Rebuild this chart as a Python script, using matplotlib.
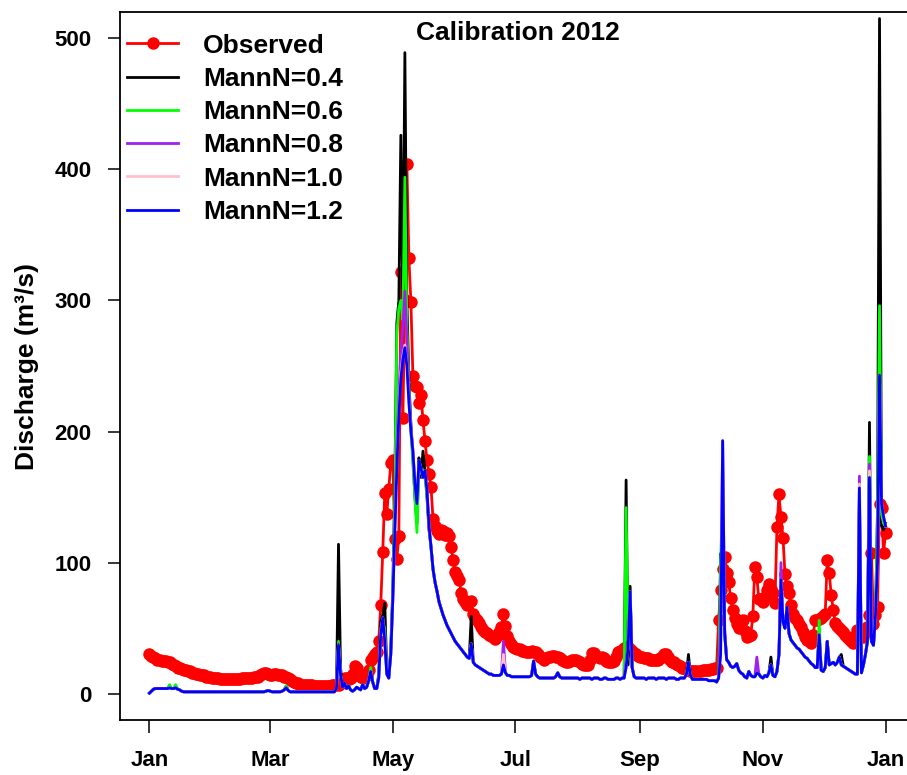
import numpy as np
import pandas as pd
import matplotlib
matplotlib.use("Agg")
import matplotlib.pyplot as plt

plt.rcParams['font.family'] = ['Liberation Sans', 'DejaVu Sans']
plt.rcParams['font.weight'] = 'bold'

# daily series, 1 Jan 2012 .. 1 Jan 2013
days = pd.date_range("2012-01-01", "2013-01-01", freq="D")

observed = [
    30, 29, 28, 27, 26, 26, 25, 25, 25, 24,
    24, 23, 22, 21, 20, 20, 19, 18, 18, 17,
    17, 16, 16, 15, 15, 14, 14, 14, 13, 13,
    13, 12, 12, 12, 12, 11, 11, 11, 11, 11,
    11, 11, 11, 11, 11, 11, 12, 12, 12, 12,
    12, 12, 13, 13, 13, 14, 15, 16, 16, 15,
    14, 14, 15, 15, 14, 14, 14, 13, 13, 12,
    11, 10, 9, 8, 8, 7, 7, 7, 7, 7,
    7, 7, 6, 6, 6, 6, 6, 6, 6, 6,
    6, 7, 7, 7, 7, 8, 10, 12, 12, 11,
    12, 15, 21, 20, 15, 13, 12, 13, 14, 18,
    26, 28, 30, 32, 40, 68, 108, 153, 137, 156,
    176, 178, 118, 103, 120, 322, 210, 300, 404, 332,
    299, 242, 235, 234, 222, 228, 209, 193, 178, 168,
    158, 133, 128, 124, 122, 125, 124, 121, 123, 120,
    112, 102, 93, 90, 87, 77, 72, 70, 68, 70,
    71, 61, 58, 56, 54, 51, 49, 47, 46, 45,
    44, 43, 42, 44, 47, 51, 61, 52, 44, 40,
    38, 36, 35, 34, 34, 33, 33, 32, 32, 32,
    33, 32, 32, 30, 28, 27, 26, 27, 28, 28,
    29, 29, 28, 28, 27, 26, 25, 24, 24, 25,
    26, 26, 26, 25, 24, 23, 22, 22, 22, 26,
    31, 31, 29, 28, 27, 28, 27, 25, 24, 24,
    24, 25, 28, 32, 33, 33, 35, 36, 36, 34,
    33, 31, 30, 29, 28, 28, 27, 27, 27, 26,
    26, 26, 26, 26, 27, 28, 30, 30, 28, 26,
    24, 24, 23, 22, 21, 20, 20, 19, 18, 17,
    17, 17, 17, 17, 17, 18, 18, 18, 18, 19,
    19, 20, 20, 56, 79, 95, 104, 92, 85, 73,
    64, 58, 53, 50, 53, 56, 48, 43, 44, 45,
    59, 97, 89, 72, 72, 70, 74, 79, 84, 80,
    77, 69, 127, 152, 135, 119, 91, 82, 77, 68,
    61, 58, 56, 53, 51, 47, 43, 41, 40, 39,
    45, 56, 56, 57, 58, 59, 61, 102, 92, 75,
    64, 54, 52, 50, 49, 47, 45, 43, 42, 40,
    39, 44, 49, 46, 44, 43, 47, 51, 60, 107,
    53, 60, 66, 145, 142, 107, 123,
]

# simulated discharge with Manning's n = 1.2
mann12 = [
    0.5, 2, 3.5, 4, 4, 4, 4, 4, 4, 4,
    4.5, 4, 4, 4.5, 3.5, 3, 2, 1.5, 1.5, 1.5,
    1.5, 1.5, 1.5, 1.5, 1.5, 1.5, 1.5, 1.5, 1.5, 1.5,
    1.5, 1.5, 1.5, 1.5, 1.5, 1.5, 1.5, 1.5, 1.5, 1.5,
    1.5, 1.5, 1.5, 1.5, 1.5, 1.5, 1.5, 1.5, 1.5, 1.5,
    1.5, 1.5, 1.5, 1.5, 1.5, 1.5, 1.5, 1.5, 2, 2.5,
    2, 1.5, 1.5, 1.5, 1.5, 1.5, 2, 3, 4.5, 2.5,
    1.5, 1.5, 1.5, 1.5, 1.5, 1.5, 1.5, 1.5, 1.5, 1.5,
    1.5, 1.5, 1.5, 1.5, 1.5, 1.5, 1.5, 1.5, 1.5, 1.5,
    1.5, 1.5, 1.5, 4, 37, 15, 5, 8, 4, 6,
    3, 2, 3, 5, 4, 3, 7, 4, 5, 10,
    17, 9, 4, 4, 12, 45, 58, 40, 15, 12,
    30, 72, 123, 171, 212, 240, 255, 264, 250, 222,
    200, 185, 160, 145, 178, 172, 165, 170, 155, 128,
    112, 95, 85, 78, 70, 65, 60, 56, 52, 49,
    46, 43, 40, 38, 36, 34, 32, 30, 28, 27,
    38, 24, 22, 21, 20, 19, 18, 17, 16, 15,
    15, 14, 14, 14, 14, 15, 22, 16, 14, 14,
    13, 13, 13, 13, 13, 13, 13, 13, 13, 13,
    14, 25, 15, 13, 12, 12, 12, 12, 12, 12,
    12, 12, 13, 16, 13, 12, 12, 12, 12, 12,
    12, 12, 12, 12, 11, 12, 12, 12, 12, 12,
    11, 12, 12, 12, 11, 11, 12, 12, 11, 11,
    11, 11, 12, 12, 11, 12, 12, 20, 35, 78,
    20, 13, 12, 12, 12, 12, 12, 11, 12, 12,
    12, 12, 11, 12, 12, 12, 12, 11, 12, 12,
    12, 12, 11, 11, 12, 12, 12, 15, 24, 14,
    11, 11, 11, 11, 11, 11, 11, 11, 10, 10,
    10, 10, 9, 12, 30, 193, 46, 26, 24, 21,
    20, 21, 23, 18, 16, 15, 13, 12, 17, 14,
    13, 13, 16, 15, 13, 12, 14, 13, 16, 22,
    14, 13, 17, 30, 87, 55, 50, 66, 46, 41,
    39, 37, 35, 34, 32, 30, 28, 27, 25, 23,
    22, 20, 20, 45, 18, 17, 20, 40, 22, 23,
    24, 22, 24, 28, 22, 21, 20, 19, 18, 17,
    16, 15, 15, 157, 16, 22, 30, 40, 165, 40,
    37, 60, 100, 243, 145, 135, 128,
]

# days where the other roughness runs depart from the n = 1.2 run
peaks04 = {10: 6, 13: 6, 68: 6, 94: 114, 95: 20, 110: 19, 114: 15, 115: 55,
           116: 60, 117: 69, 118: 18, 120: 35, 121: 80, 122: 160, 123: 283,
           124: 300, 125: 426, 126: 290, 127: 489, 128: 300, 129: 240,
           130: 205, 131: 180, 132: 150, 133: 130, 134: 180, 135: 165,
           136: 185, 137: 170, 138: 150, 139: 125, 160: 59, 237: 163,
           238: 22, 239: 82, 268: 30, 284: 107, 285: 100, 309: 28, 314: 85,
           344: 30, 353: 150, 358: 207, 362: 140, 363: 515, 364: 128,
           365: 125, 366: 130}
peaks06 = {10: 7, 13: 7, 68: 6, 94: 40, 110: 20, 115: 50, 116: 55, 117: 50,
           118: 15, 120: 32, 121: 75, 122: 150, 123: 275, 124: 294, 125: 300,
           126: 285, 127: 394, 128: 280, 129: 235, 130: 200, 131: 175,
           132: 150, 133: 123, 134: 175, 135: 168, 136: 170, 137: 165,
           138: 150, 237: 142, 239: 76, 284: 100, 285: 150, 314: 88, 333: 56,
           353: 155, 358: 181, 362: 135, 363: 296, 364: 137, 365: 130}
peaks08 = {94: 38, 115: 47, 116: 58, 117: 45, 121: 72, 122: 130, 123: 190,
           124: 225, 125: 260, 126: 280, 127: 307, 128: 270, 129: 230,
           130: 205, 131: 185, 132: 160, 133: 148, 176: 40, 237: 25, 284: 60,
           286: 50, 302: 28, 314: 100, 353: 166, 358: 175}
peaks10 = {124: 215, 125: 245, 126: 258, 127: 266, 176: 30, 353: 160, 358: 170}


def with_peaks(base, peaks):
    out = np.array(base, dtype=float)
    for d, v in peaks.items():
        out[d] = v
    return out


runs = [
    ("MannN=0.4", with_peaks(mann12, peaks04), "black"),
    ("MannN=0.6", with_peaks(mann12, peaks06), "#00FF00"),
    ("MannN=0.8", with_peaks(mann12, peaks08), "#A020F0"),
    ("MannN=1.0", with_peaks(mann12, peaks10), "#FFC0CB"),
    ("MannN=1.2", np.array(mann12, dtype=float), "#0000FF"),
]

fig = plt.figure(figsize=(9.07, 7.75), dpi=100)
ax = fig.add_axes([120 / 907, 55 / 775, 795 / 907, 708 / 775])

ax.plot(days, observed, color="red", lw=2, marker="o", ms=9, mew=0,
        label="Observed")
for name, q, col in runs:
    ax.plot(days, q, color=col, lw=2.0, label=name)

pad = pd.Timedelta(days=14.64)
ax.set_xlim(days[0] - pad, days[-1] + pad)
ax.set_ylim(-20, 520)

ticks = pd.to_datetime(["2012-01-01", "2012-03-01", "2012-05-01", "2012-07-01",
                        "2012-09-01", "2012-11-01", "2013-01-01"])
ax.set_xticks(ticks)
ax.set_xticklabels(["Jan", "Mar", "May", "Jul", "Sep", "Nov", "Jan"])
ax.set_yticks([0, 100, 200, 300, 400, 500])

ax.tick_params(direction="out", length=9, width=1.1, labelsize=16)
ax.tick_params(axis="x", pad=12.5)
ax.tick_params(axis="y", pad=11.5)
for s in ax.spines.values():
    s.set_linewidth(1.3)

ax.set_ylabel("Discharge (m³/s)", fontsize=19, fontweight="bold", labelpad=11)
ax.text(0.5, 0.971, "Calibration 2012", transform=ax.transAxes,
        ha="center", va="center", fontsize=19, fontweight="bold")

ax.legend(loc="upper left", bbox_to_anchor=(-0.005, 0.985), frameon=False,
          fontsize=19, handlelength=1.93, handletextpad=0.95, labelspacing=0.35,
          borderpad=0.3, borderaxespad=0.12)

fig.savefig("out.png", dpi=100)
